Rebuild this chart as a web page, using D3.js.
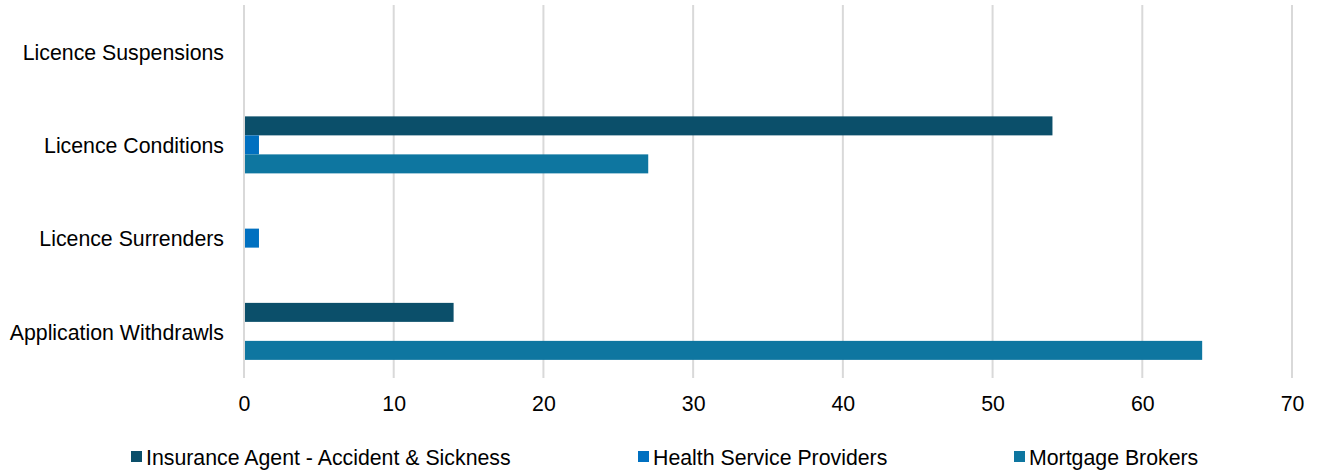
<!DOCTYPE html>
<html><head><meta charset="utf-8">
<script src="https://cdn.jsdelivr.net/npm/d3@7"></script>
<style>body{margin:0;background:#fff}svg{display:block;font-family:"Liberation Sans",Arial,sans-serif}</style>
</head><body><svg id="c" width="1317" height="473"></svg>
<script>
const categories = ["Licence Suspensions","Licence Conditions","Licence Surrenders","Application Withdrawls"];
const seriesNames = ["Insurance Agent - Accident & Sickness","Health Service Providers","Mortgage Brokers"];
const insuranceAgent = [0, 54, 0, 14];
const healthService = [0, 1, 1, 0];
const mortgageBrokers = [0, 27, 0, 64];
const xTicks = [0,10,20,30,40,50,60,70];
const colors = ["#0b4f6a","#0070c0","#0e76a0"];

(function(){
const svg = d3.select("#c");
const pl = 244, pr = 1292, pt = 5, pb = 378;
const fs = 21.3;
const x = d3.scaleLinear().domain([0,70]).range([pl,pr]);
const y = d3.scaleBand().domain(categories).range([pt,pb]);
const inner = d3.scaleBand().domain(seriesNames).range([0,57]);
const values = [insuranceAgent, healthService, mortgageBrokers];

svg.append("g").selectAll("line").data(xTicks).join("line")
  .attr("x1",d=>x(d)).attr("x2",d=>x(d)).attr("y1",pt).attr("y2",pb)
  .attr("stroke","#d9d9d9").attr("stroke-width",2);

seriesNames.forEach((s,i)=>{
  svg.append("g").selectAll("rect").data(categories).join("rect")
    .attr("x",x(0)+1)
    .attr("y",c=>y(c)+(y.bandwidth()-57)/2+inner(s))
    .attr("width",(c,j)=>Math.max(0,x(values[i][j])-x(0)-1))
    .attr("height",inner.bandwidth())
    .attr("fill",colors[i])
    .style("display",(c,j)=>values[i][j]>0?null:"none");
});

const xa = svg.append("g").attr("transform",`translate(0,${pb})`)
  .call(d3.axisBottom(x).tickValues(xTicks).tickSize(0).tickPadding(18).tickFormat(d3.format("d")));
xa.select(".domain").remove();
xa.selectAll("text").attr("font-size",fs).attr("fill","#000").attr("font-family","Liberation Sans, Arial, sans-serif");

const ya = svg.append("g").attr("transform",`translate(${pl},1.5)`)
  .call(d3.axisLeft(y).tickSize(0).tickPadding(20));
ya.select(".domain").remove();
ya.selectAll("text").attr("font-size",fs).attr("fill","#000").attr("font-family","Liberation Sans, Arial, sans-serif");

const legX = [131, 638, 1014];
const lg = svg.append("g");
seriesNames.forEach((s,i)=>{
  lg.append("rect").attr("x",legX[i]).attr("y",451).attr("width",11).attr("height",11).attr("fill",colors[i]);
  lg.append("text").attr("x",legX[i]+15).attr("y",458).attr("dy","0.35em")
    .attr("font-size",fs).attr("fill","#000").text(s);
});
})();
</script></body></html>
